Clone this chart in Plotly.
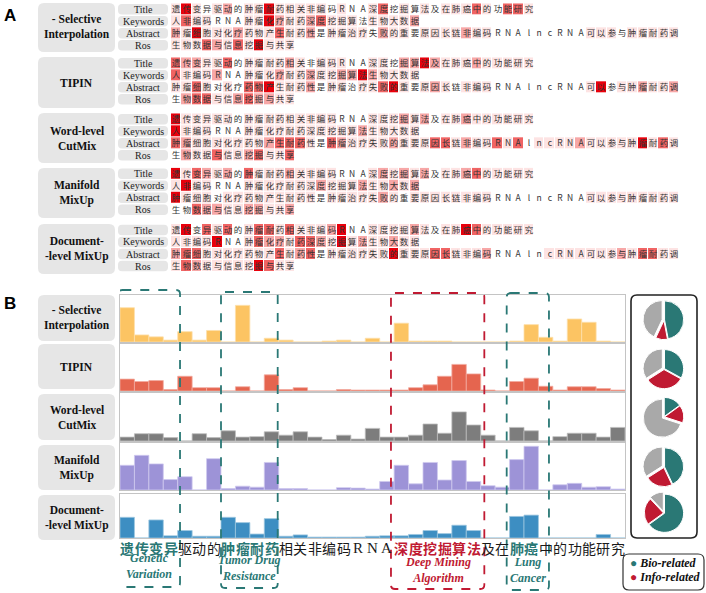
import plotly.graph_objects as go

W, H = 706, 593

# ---------------- data ----------------
title_chars = list("遗传变异驱动的肿瘤耐药相关非编码RNA深度挖掘算法及在肺癌中的功能研究")
keyword_chars = list("人非编码RNA肿瘤化疗耐药深度挖掘算法生物大数据")
abstract_chars = list("肿瘤细胞对化疗药物产生耐药性是肿瘤治疗失败的重要原因长链非编码RNAlncRNA可以参与肿瘤耐药调")
ros_chars = list("生物数据与信息挖掘与共享")
field_names = ["Title", "Keywords", "Abstract", "Ros"]
method_names = ["- Selective<br>Interpolation", "TIPIN", "Word-level<br>CutMix",
                "Manifold<br>MixUp", "Document-<br>-level MixUp"]

# attention level per character (0 = none ... 4 = strongest)
si_title = [1,4,1,0,1,2,0,1,1,4,1,1,1,1,1,0,1,0,0,1,3,0,1,0,1,0,1,1,1,3,1,0,3,3,1]
si_kw = [1,3,1,1,0,0,0,1,1,4,2,1,1,2,3,1,1,1,0,1,1,1,1,2]
si_abs = [2,1,4,1,1,1,2,1,1,1, 3,1,1,2,0,1,1,1,1,0, 2,1,1,0,1,1,1,1,2,1,
          1,0,0,0,0,0,0,0,0,0, 1,1,1,0,1,1,1,1,1]
si_ros = [1,1,1,3,2,1,3,1,4,1,1,1]

tipin_title = [3,2,2,1,1,3,0,1,1,1,1,2,1,0,1,1,1,0,0,1,1,0,2,2,4,2,1,1,1,2,1,1,1,1,1]
tipin_kw = [3,1,1,1,2,0,0,1,1,1,2,1,1,2,1,1,2,2,4,2,1,1,1,1]
tipin_abs = [1,1,3,1,0,1,0,3,3,4, 1,1,1,2,0,1,1,0,1,1, 3,4,1,0,1,2,1,0,1,1,
             1,0,0,0,0,0,0,0,0,0, 1,4,0,1,1,2,1,1,2]
tipin_ros = [0,2,3,3,1,1,2,3,2,2,1,1]

cutmix_title = [4,1,1,1,1,1,0,1,1,1,1,1,1,1,1,1,0,0,0,1,1,1,2,1,2,0,1,1,2,1,1,1,1,1,1]
cutmix_kw = [4,1,1,1,0,0,0,1,1,1,1,1,1,1,1,1,1,1,2,1,1,1,1,1]
cutmix_abs = [3,2,1,1,1,1,1,1,1,2, 3,3,3,1,0,3,2,1,1,1, 1,2,1,1,1,3,3,1,2,1,
              1,3,1,3,0,1,1,1,1,2, 1,1,1,1,1,4,1,3,1]
cutmix_ros = [0,2,1,1,3,1,1,2,3,1,1,3]

manifold_title = [4,1,3,2,1,2,0,3,1,1,1,2,1,1,1,1,0,0,0,1,2,1,2,1,2,0,1,1,2,3,1,1,1,1,1]
manifold_kw = [1,4,1,1,0,0,0,1,1,1,1,1,1,1,2,1,1,1,2,1,1,2,1,2]
manifold_abs = [4,1,1,1,0,1,1,1,1,1, 1,1,1,1,0,1,1,1,1,1, 2,1,0,1,1,1,1,1,1,1,
                1,0,0,0,0,0,0,0,0,0, 1,1,1,1,1,1,1,1,1]
manifold_ros = [0,0,3,2,2,1,1,2,2,1,1,2]

docmix_title = [1,4,0,3,1,3,0,1,3,3,1,3,1,1,1,2,4,0,0,1,1,1,1,2,1,0,1,1,4,3,1,1,1,1,1]
docmix_kw = [1,1,1,1,4,0,0,1,3,2,2,1,3,3,2,1,4,1,2,1,1,2,1,1]
docmix_abs = [2,3,3,1,1,1,1,1,1,1, 3,1,2,3,0,1,1,1,1,1, 1,4,1,1,1,3,3,1,1,1,
              2,0,0,0,0,0,1,1,1,1, 1,1,1,2,1,3,3,1,1]
docmix_ros = [1,3,2,1,1,1,1,1,4,3,1,1]

# panel B: per-character attention over the title
si_bar = [0.73,0.15,0.11,0.04,0.22,0.04,0.245,0,0.78,0,0.08,0.04,0,0,0.02,0.04,0,0.08,0,0.40,
          0.02,0.02,0.02,0,0,0,0,0.02,0.37,0.10,0.02,0.49,0.42,0.02,0]
tipin_bar = [0.25,0.20,0.22,0.03,0.31,0.07,0.07,0,0.09,0,0.34,0.03,0.07,0,0,0.03,0.02,0.02,0.02,0.02,
             0.07,0.13,0.31,0.56,0.36,0.02,0,0.20,0.27,0.10,0.02,0.09,0.09,0.05,0.02]
cutmix_bar = [0.08,0.15,0.15,0.07,0,0.15,0.07,0.21,0.08,0.09,0.19,0.12,0.19,0.08,0.03,0.12,0.04,0.26,0.08,0.08,
              0.12,0.35,0.16,0.60,0.33,0.12,0,0.28,0.21,0,0.09,0.16,0.16,0.08,0.28]
manifold_bar = [0.52,0.73,0.55,0.22,0.28,0,0.66,0.03,0.08,0.06,0.58,0.03,0.03,0,0,0.05,0.04,0.02,0.18,0.52,
                0.13,0.58,0.21,0.62,0.18,0.09,0.06,0.64,0.92,0,0.11,0.14,0.06,0.07,0.02]
docmix_bar = [0.47,0,0.41,0.05,0.17,0.04,0.04,0.47,0.35,0.09,0.44,0.04,0.07,0.02,0.02,0.02,0.02,0.04,0.05,0.05,
              0.08,0.17,0.10,0.29,0.17,0,0,0.49,0.52,0,0,0,0,0.08,0]

bio_share = [47, 33, 15, 43, 65]
info_share = [10, 33, 15, 23, 23]
other_share = [43, 34, 70, 34, 12]
pie_labels = ["Bio-related", "Info-related", "Other"]

region_names = ["Genetic<br>Variation", "Tumor Drug<br>Resistance", "Deep Mining<br>Algorithm", "Lung<br>Cancer"]
region_start = [0, 7, 19, 27]
region_end = [3, 10, 24, 28]
region_kind = ["bio", "bio", "info", "bio"]

# ---------------- styling / helpers ----------------
TEAL = "#2a7875"
CRED = "#c01a32"
LABEL_BG = "#e6e6e6"
SERIF = "Liberation Serif, Times New Roman, serif"
CJK = "Noto Sans CJK SC"

def fx(px):
    return px / W

def fy(py):
    return 1 - py / H

def rrect(x0, yt, x1, yb, rx, ry):
    return (f"M {x0+rx},{yt} L {x1-rx},{yt} Q {x1},{yt} {x1},{yt-ry} "
            f"L {x1},{yb+ry} Q {x1},{yb} {x1-rx},{yb} L {x0+rx},{yb} "
            f"Q {x0},{yb} {x0},{yb+ry} L {x0},{yt-ry} Q {x0},{yt} {x0+rx},{yt} Z")

def paper_box(x0, y0, x1, y1, r=5, **kw):
    return dict(type="path", xref="paper", yref="paper",
                path=rrect(fx(x0), fy(y0), fx(x1), fy(y1), r / W, r / H), **kw)

def ptext(px, py, text, font, xanchor="center"):
    return dict(x=fx(px), y=fy(py), xref="paper", yref="paper", text=text, showarrow=False,
                xanchor=xanchor, yanchor="middle", font=font)

fig = go.Figure()
shapes, annotations, layout_axes = [], [], {}

# ---------------- Panel A ----------------
char_rows = [title_chars, keyword_chars, abstract_chars, ros_chars]
levels_A = [
    [si_title, si_kw, si_abs, si_ros],
    [tipin_title, tipin_kw, tipin_abs, tipin_ros],
    [cutmix_title, cutmix_kw, cutmix_abs, cutmix_ros],
    [manifold_title, manifold_kw, manifold_abs, manifold_ros],
    [docmix_title, docmix_kw, docmix_abs, docmix_ros],
]
ncol = max(len(r) for r in char_rows)
cell_w = 10.37
row_h = 12.0
a_left = 171
group_top = [3.3, 57.3, 113.3, 167.7, 224.0]
big_box = [(3, 52), (57, 108), (113, 163), (168, 218), (224, 274)]
cmap = [[0, "#ffffff"], [0.25, "#fde3e3"], [0.5, "#f7a7a7"], [0.75, "#f06464"], [1, "#e8000b"]]

for g, lv in enumerate(levels_A):
    k = g + 1
    z = [list(r) + [None] * (ncol - len(r)) for r in lv]
    txt = [list(c) + [""] * (ncol - len(c)) for c in char_rows]
    fig.add_trace(go.Heatmap(
        z=z, text=txt, texttemplate="%{text}",
        textfont=dict(family=CJK, size=8.5, color="#333333"),
        colorscale=cmap, zmin=0, zmax=4, showscale=False, xgap=1, ygap=1,
        hoverinfo="skip", xaxis=f"x{k}", yaxis=f"y{k}"))
    top = group_top[g]
    layout_axes[f"xaxis{k}"] = dict(domain=[fx(a_left), fx(a_left + ncol * cell_w)],
                                    range=[-0.5, ncol - 0.5], visible=False,
                                    anchor=f"y{k}", fixedrange=True)
    layout_axes[f"yaxis{k}"] = dict(domain=[fy(top + 4 * row_h), fy(top)],
                                    range=[3.5, -0.5], visible=False,
                                    anchor=f"x{k}", fixedrange=True)
    b0, b1 = big_box[g]
    shapes.append(paper_box(38, b0, 115, b1, r=6, fillcolor=LABEL_BG, line=dict(width=0), layer="below"))
    annotations.append(ptext(76.5, (b0 + b1) / 2, f"<b>{method_names[g]}</b>",
                             dict(family=SERIF, size=11.5, color="#111")))
    for r, fname in enumerate(field_names):
        c = top + row_h * (r + 0.5)
        shapes.append(paper_box(118, c - 5.3, 168, c + 5.3, r=4, fillcolor=LABEL_BG,
                                line=dict(width=0), layer="below"))
        annotations.append(ptext(143, c, fname, dict(family=SERIF, size=10, color="#222")))

annotations.append(ptext(10, 15, "<b>A</b>", dict(family="Liberation Sans, Arial", size=17, color="#000")))
annotations.append(ptext(10, 303, "<b>B</b>", dict(family="Liberation Sans, Arial", size=17, color="#000")))

# ---------------- Panel B ----------------
bars_B = [si_bar, tipin_bar, cutmix_bar, manifold_bar, docmix_bar]
bar_fill = ["#fcc463", "#e5654f", "#7d7d7d", "#9d93d7", "#3d8ec2"]
bar_edge = ["#fde0ab", "#f3ab9f", "#bdbdbd", "#cfc9ef", "#9cc6e0"]
b_rows = [(295, 342), (343.5, 391), (392.5, 441), (442.5, 490), (494, 538)]
b_label = [(295, 341), (344, 389), (394, 440), (445, 490), (495, 540)]
b_left, b_right = 120, 625
nb = len(title_chars)

for j, vals in enumerate(bars_B):
    k = 6 + j
    fig.add_trace(go.Bar(x=list(range(nb)), y=vals, width=1.0,
                         marker=dict(color=bar_fill[j], line=dict(color=bar_edge[j], width=0.8)),
                         hoverinfo="skip", xaxis=f"x{k}", yaxis=f"y{k}"))
    t, b = b_rows[j]
    layout_axes[f"xaxis{k}"] = dict(domain=[fx(b_left), fx(b_right)], range=[-0.5, nb - 0.5],
                                    showticklabels=False, ticks="", showgrid=False, zeroline=False,
                                    showline=True, mirror=True, linecolor="#c4c4c4", linewidth=1.2,
                                    anchor=f"y{k}", fixedrange=True)
    layout_axes[f"yaxis{k}"] = dict(domain=[fy(b), fy(t)], range=[0, 1],
                                    showticklabels=False, ticks="", showgrid=False, zeroline=False,
                                    showline=True, mirror=True, linecolor="#c4c4c4", linewidth=1.2,
                                    anchor=f"x{k}", fixedrange=True)
    l0, l1 = b_label[j]
    shapes.append(paper_box(38, l0, 115, l1, r=6, fillcolor=LABEL_BG, line=dict(width=0), layer="below"))
    annotations.append(ptext(76.5, (l0 + l1) / 2, f"<b>{method_names[j]}</b>",
                             dict(family=SERIF, size=11.5, color="#111")))

# title characters under the bars, coloured by region
char_color = ["#1a1a1a"] * nb
char_bold = [False] * nb
for s, e, kind in zip(region_start, region_end, region_kind):
    for i in range(s, e + 1):
        char_color[i] = TEAL if kind == "bio" else CRED
        char_bold[i] = True
for i, ch in enumerate(title_chars):
    latin = ch.isascii()
    txt = f"<b>{ch}</b>" if char_bold[i] else ch
    annotations.append(dict(x=i, y=fy(548), xref="x10", yref="paper", text=txt, showarrow=False,
                            xanchor="center", yanchor="middle",
                            font=dict(family=SERIF if latin else CJK, size=15 if latin else 14,
                                      color=char_color[i])))

# dashed region boxes and their labels
pad_left = [0.12, 0.0, 0.22, 0.2]
pad_right = [0.16, -0.07, 0.25, 0.73]
box_y = [(290, 587), (292, 588), (293, 589), (293, 590)]
label_y = [566, 568, 570, 570]
px_per_unit = (b_right - b_left) / nb
for r in range(len(region_names)):
    col = TEAL if region_kind[r] == "bio" else CRED
    x0 = region_start[r] - 0.5 - pad_left[r]
    x1 = region_end[r] + 0.5 + pad_right[r]
    yt, yb = box_y[r]
    shapes.append(dict(type="path", xref="x10", yref="paper",
                       path=rrect(x0, fy(yt), x1, fy(yb), 4 / px_per_unit, 4 / H),
                       line=dict(color=col, width=1.8, dash="dash"), layer="above"))
    annotations.append(dict(x=(x0 + x1) / 2, y=fy(label_y[r]), xref="x10", yref="paper",
                            text=f"<b><i>{region_names[r]}</i></b>", showarrow=False,
                            xanchor="center", yanchor="middle",
                            font=dict(family=SERIF, size=12, color=col)))

# ---------------- pies ----------------
pie_cy = [320, 369, 417, 467, 513]
for j in range(len(bio_share)):
    cy = pie_cy[j]
    fig.add_trace(go.Pie(values=[bio_share[j], info_share[j], other_share[j]], labels=pie_labels,
                         sort=False, direction="clockwise", rotation=0,
                         marker=dict(colors=[TEAL, CRED, "#a9a9a9"], line=dict(color="white", width=1)),
                         pull=[0.03, 0.03, 0.1], textinfo="none", hoverinfo="skip", showlegend=False,
                         domain=dict(x=[fx(643), fx(685)], y=[fy(cy + 21), fy(cy - 21)])))

shapes.append(paper_box(631, 295, 697, 538, r=6, fillcolor="rgba(0,0,0,0)",
                        line=dict(color="#222", width=1.6)))
shapes.append(paper_box(623, 554, 704, 590, r=6, fillcolor="rgba(0,0,0,0)",
                        line=dict(color="#333", width=1.2)))
for lbl, col, yy in [("Bio-related", TEAL, 563), ("Info-related", CRED, 577)]:
    annotations.append(ptext(628, yy, f"<span style='color:{col}'>●</span> <b><i>{lbl}</i></b>",
                             dict(family=SERIF, size=12, color="#111"), xanchor="left"))

fig.update_layout(width=W, height=H, margin=dict(l=0, r=0, t=0, b=0),
                  paper_bgcolor="white", plot_bgcolor="rgba(0,0,0,0)", showlegend=False,
                  bargap=0, shapes=shapes, annotations=annotations, **layout_axes)

fig.write_html("out.html", config={"displayModeBar": False, "staticPlot": True},
               post_script="document.body.style.margin='0';document.body.style.overflow='hidden';")
